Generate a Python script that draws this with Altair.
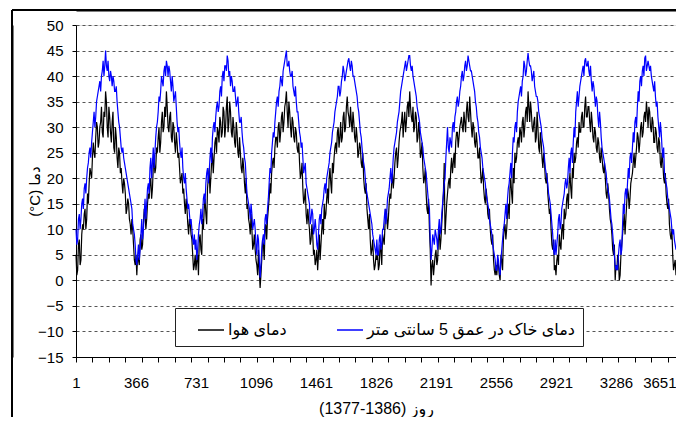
import altair as alt
import pandas as pd

# ---- temperature readings from the reference: values at days 1, 11, 21, ... (one list per year) ----
air_y1 = [5, 2, 8, 4, 11, 13, 10, 17, 19, 21, 24, 25, 28, 30, 27, 31, 29, 33, 37, 30, 34, 29, 31, 26, 30, 24, 26, 21, 19, 20, 17, 14, 15, 11, 12, 7, 3]
air_y2 = [1, 4, 8, 6, 11, 13, 12, 17, 19, 16, 22, 21, 26, 28, 25, 31, 29, 34, 37, 30, 32, 28, 31, 27, 29, 24, 22, 20, 17, 15, 16, 11, 12, 9, 5, 3]
air_y3 = [2, 5, 8, 6, 12, 14, 13, 18, 22, 20, 25, 24, 28, 30, 27, 31, 29, 33, 30, 36, 31, 33, 28, 30, 26, 29, 24, 25, 21, 22, 17, 14, 12, 9, 10, 7, 6]
air_y4 = [3, 6, -1.5, 4, 7, 10, 8, 14, 19, 21, 24, 26, 28, 30, 27, 32, 29, 34, 37, 30, 33, 28, 31, 27, 29, 25, 23, 21, 18, 16, 13, 14, 10, 8, 9, 6]
air_y5 = [4, 2, 9, 7, 12, 15, 13, 18, 20, 19, 23, 24, 27, 29, 26, 31, 28, 33, 30, 36, 32, 34, 29, 31, 27, 28, 25, 26, 22, 20, 17, 14, 10, 8, 6, 4, 3]
air_y6 = [4, 2, 7, 3, 8, 11, 13, 12, 17, 19, 18, 23, 26, 24, 29, 31, 28, 33, 31, 35, 37, 32, 34, 30, 32, 28, 29, 25, 22, 20, 17, 13, 10, -1, 4, 3]
air_y7 = [6, 4, 10, 8, 14, 23, 12, 17, 20, 22, 21, 25, 27, 29, 28, 31, 30, 33, 29, 35, 31, 33, 28, 30, 26, 27, 24, 22, 20, 18, 15, 16, 12, 10, 7, 4, 1]
air_y8 = [1, 3, 0, 4, 8, 11, 10, 15, 18, 17, 22, 25, 24, 28, 30, 27, 32, 30, 34, 37, 31, 33, 29, 32, 28, 30, 25, 27, 22, 23, 19, 17, 13, 10, 6, 2]
air_y9 = [1, 5, 9, 6, 11, 14, 13, 17, 19, 18, 22, 25, 24, 28, 31, 29, 33, 30, 36, 32, 34, 29, 31, 27, 29, 25, 27, 23, 24, 21, 20, 16, 17, 12, 9, 5, 0]
air_y10 = [2, 4, 1, 7, 11, 9, 15, 17, 16, 20, 23, 22, 26, 28, 27, 31, 29, 33, 35, 30, 33, 29, 31, 27, 29, 25, 27, 22, 23, 19, 17, 14, 11, 8, 5, 3, 1]

soil_y1 = [10, 8, 13, 12, 16, 18, 17, 22, 25, 24, 29, 33, 32, 36, 38, 37, 41, 40, 45, 41, 40, 41, 38, 39, 37, 35, 31, 28, 25, 24, 22, 20, 18, 16, 14, 10, 7]
soil_y2 = [3, 7, 6, 12, 10, 16, 15, 19, 22, 20, 26, 25, 30, 33, 35, 40, 38, 42, 43, 40, 41, 37, 38, 36, 34, 29, 27, 24, 22, 19, 18, 14, 13, 12, 8, 9]
soil_y3 = [8, 6, 11, 14, 13, 17, 19, 22, 21, 26, 28, 31, 32, 35, 34, 38, 40, 39, 42, 44, 40, 38, 39, 37, 36, 35, 33, 31, 29, 26, 23, 17, 15, 12, 13, 11, 10]
soil_y4 = [5, 8, 0.5, 6, 9, 12, 11, 16, 22, 25, 29, 31, 35, 34, 38, 39, 41, 43, 45, 42, 41, 40, 38, 36, 35, 33, 29, 26, 24, 22, 19, 17, 15, 12, 13, 10]
soil_y5 = [10, 6, 12, 11, 15, 18, 17, 21, 23, 26, 29, 31, 34, 36, 38, 37, 40, 41, 40, 42, 43.5, 41, 42, 40, 38, 36, 33, 29, 26, 23, 20, 17, 15, 13, 11, 8, 6]
soil_y6 = [8, 5, 9, 7, 10, 14, 13, 17, 20, 19, 24, 27, 29, 32, 35, 38, 40, 42, 41, 43, 44, 41, 40, 38, 36, 33, 31, 28, 26, 23, 21, 17, 14, 4, 9, 7]
soil_y7 = [9, 6, 12, 10, 15, 19, 24, 30, 25, 27, 30, 29, 33, 36, 35, 38, 41, 40, 43, 42, 43, 41, 40, 38, 35, 32, 29, 26, 24, 21, 19, 16, 14, 11, 9, 6, 4]
soil_y8 = [2, 4, 1, 6, 10, 13, 12, 18, 21, 20, 28, 30, 29, 35, 37, 36, 40, 42, 41, 44.5, 42, 41, 40, 38, 36, 35, 32, 30, 27, 24, 21, 19, 16, 13, 9, 5]
soil_y9 = [5, 9, 13, 11, 15, 17, 20, 19, 24, 25, 23, 30, 33, 37, 36, 39, 41, 40, 43.5, 42, 41, 42, 37, 38, 34, 35, 30, 31, 26, 24, 22, 19, 17, 14, 11, 7, 3]
soil_y10 = [3, 5, 8, 6, 15, 17, 16, 22, 24, 23, 29, 31, 30, 37, 39, 38, 42, 43.5, 41, 43, 41, 40, 38, 39, 34, 32, 28, 29, 24, 21, 19, 16, 14, 12, 9, 8, 6]

# ---- readings in between: days 6, 16, 26, ... (one list per year) ----
air_m1 = [1, 7, 3, 9, 10, 14, 12, 15, 22, 20, 27, 24, 31, 26, 30, 34, 28, 32, 35, 28, 32, 27, 33, 25, 28, 22, 25, 22, 17, 19, 13, 16, 12, 9, 10, 4, 5]
air_m2 = [5, 3, 9, 7, 14, 10, 15, 16, 20, 18, 24, 22, 25, 30, 27, 33, 30, 32, 34, 29, 33, 27, 30, 25, 27, 25, 19, 21, 18, 13, 14, 9, 11, 8, 2, 5]
air_m3 = [4, 1, 9, 5, 10, 16, 11, 20, 17, 23, 21, 27, 25, 29, 32, 28, 34, 28, 34, 29, 35, 29, 32, 27, 31, 25, 28, 22, 24, 19, 20, 15, 11, 13, 6, 9, 4]
air_m4 = [1, 2, 1, 8, 4, 11, 12, 16, 17, 23, 22, 28, 26, 31, 29, 33, 31, 35, 33, 35, 30, 32, 28, 30, 26, 27, 20, 23, 15, 18, 11, 12, 7, 11, 5, 3]
air_m5 = [6, 5, 4, 10, 9, 12, 16, 15, 22, 17, 21, 26, 25, 30, 28, 27, 32, 29, 34, 33, 30, 31, 33, 28, 30, 24, 27, 23, 25, 18, 19, 12, 13, 5, 8, 2, 5]
air_m6 = [5, 3, 6, 9, 7, 14, 10, 15, 16, 21, 20, 25, 22, 27, 30, 33, 31, 29, 34, 32, 34, 31, 29, 33, 27, 31, 24, 27, 19, 22, 14, 16, 6, 3, 1, 5]
air_m7 = [3, 8, 6, 11, 17, 9, 15, 19, 18, 24, 23, 22, 29, 26, 30, 32, 29, 31, 33, 32, 36, 30, 31, 27, 29, 24, 26, 19, 22, 16, 18, 13, 14, 8, 9, 2, 3]
air_m8 = [4, 1, 5, 2, 10, 8, 13, 12, 20, 15, 19, 23, 27, 26, 29, 31, 28, 33, 31, 34, 35, 30, 31, 27, 33, 26, 29, 24, 25, 20, 21, 15, 14, 7, 8, 3]
air_m9 = [4, 3, 7, 10, 8, 12, 16, 14, 21, 16, 20, 23, 27, 26, 29, 32, 30, 34, 32, 34, 31, 33, 28, 30, 26, 28, 24, 26, 22, 23, 17, 19, 14, 11, 6, 7, 3]
air_m10 = [5, 0, 5, 9, 13, 12, 18, 14, 19, 21, 25, 24, 29, 25, 30, 28, 32, 31, 33, 34, 30, 32, 27, 30, 26, 28, 23, 25, 20, 21, 15, 16, 9, 10, 2, 4]

soil_m1 = [7, 12, 10, 15, 14, 19, 20, 23, 26, 27, 31, 30, 35, 37, 39, 40, 43, 42, 42, 43, 39, 40, 40, 37, 38, 33, 30, 26, 26, 23, 21, 19, 17, 15, 11, 9, 4]
soil_m2 = [5, 4, 9, 8, 13, 12, 18, 17, 24, 23, 22, 28, 31, 36, 37, 39, 41, 40, 42, 42, 39, 40, 35, 37, 31, 30, 25, 26, 20, 21, 16, 15, 11, 10, 7, 6]
soil_m3 = [4, 9, 12, 11, 16, 15, 21, 19, 24, 23, 30, 29, 34, 33, 37, 36, 41, 42, 41, 43, 41, 40, 37, 38, 34, 36, 31, 32, 27, 24, 20, 16, 14, 15, 10, 12, 7]
soil_m4 = [9, 4, 3, 8, 7, 13, 14, 19, 21, 27, 28, 33, 36, 37, 40, 38, 42, 44, 42, 43, 40, 41, 37, 38, 33, 31, 28, 27, 21, 23, 18, 16, 11, 14, 9, 12]
soil_m5 = [7, 9, 13, 14, 16, 19, 20, 22, 25, 27, 30, 33, 35, 38, 36, 39, 42, 39, 41, 43, 42, 43, 40, 39, 37, 34, 31, 28, 24, 22, 18, 16, 14, 12, 9, 7, 5]
soil_m6 = [5, 8, 6, 10, 12, 11, 16, 18, 22, 21, 26, 28, 31, 33, 37, 39, 41, 43, 42, 44, 42, 42, 39, 37, 34, 32, 29, 27, 24, 22, 19, 15, 8, 6, 8, 10]
soil_m7 = [8, 10, 9, 13, 17, 20, 27, 26, 28, 26, 31, 32, 35, 34, 37, 40, 39, 42, 41, 44, 42, 41, 39, 37, 34, 31, 28, 25, 22, 20, 17, 15, 12, 10, 7, 5, 2]
soil_m8 = [5, 2, 4, 8, 11, 15, 16, 19, 23, 25, 27, 31, 33, 36, 38, 39, 43, 40, 43, 43, 42, 39, 41, 37, 36, 33, 31, 28, 26, 22, 20, 17, 15, 11, 6, 8]
soil_m9 = [7, 12, 10, 14, 16, 19, 18, 22, 21, 26, 27, 28, 35, 34, 38, 40, 42, 43, 42, 43, 40, 39, 39, 36, 36, 32, 33, 28, 25, 23, 21, 18, 16, 12, 9, 5, 2]
soil_m10 = [2, 7, 5, 11, 13, 18, 19, 20, 25, 26, 27, 32, 34, 35, 40, 41, 40, 44, 42, 42, 42, 39, 37, 36, 35, 30, 31, 26, 26, 20, 18, 15, 13, 10, 10, 7]

air_main = air_y1 + air_y2 + air_y3 + air_y4 + air_y5 + air_y6 + air_y7 + air_y8 + air_y9 + air_y10
soil_main = soil_y1 + soil_y2 + soil_y3 + soil_y4 + soil_y5 + soil_y6 + soil_y7 + soil_y8 + soil_y9 + soil_y10
air_mid = air_m1 + air_m2 + air_m3 + air_m4 + air_m5 + air_m6 + air_m7 + air_m8 + air_m9 + air_m10
soil_mid = soil_m1 + soil_m2 + soil_m3 + soil_m4 + soil_m5 + soil_m6 + soil_m7 + soil_m8 + soil_m9 + soil_m10

x_label_days = [1, 366, 731, 1096, 1461, 1826, 2191, 2556, 2921, 3286, 3651]
x_tick_days = [1, 101, 201, 301, 401, 501, 601, 701, 801, 901, 1001, 1101, 1201, 1301, 1401,
               1501, 1601, 1701, 1801, 1901, 2001, 2101, 2201, 2301, 2401, 2501, 2601, 2701,
               2801, 2901, 3001, 3101, 3201, 3301, 3401, 3501, 3601]
y_ticks = [-15, -10, -5, 0, 5, 10, 15, 20, 25, 30, 35, 40, 45, 50]

air_name = "دمای هوا"
soil_name = "دمای خاک در عمق 5 سانتی متر"
x_title = "(1377-1386) روز"
y_title = "(°C) دما"


def series_frame(main_vals, mid_vals, name):
    rows = [(1 + 10 * i, v) for i, v in enumerate(main_vals)]
    rows += [(6 + 10 * i, v) for i, v in enumerate(mid_vals)]
    rows.sort()
    return pd.DataFrame({"day": [r[0] for r in rows], "temp": [r[1] for r in rows], "series": name})


df_air = series_frame(air_main, air_mid, air_name)
df_soil = series_frame(soil_main, soil_mid, soil_name)

FONT = "Liberation Sans, Arial, DejaVu Sans, sans-serif"

x_scale = alt.Scale(domain=[1, 3651], nice=False, zero=False)
y_scale = alt.Scale(domain=[-15, 50], nice=False, zero=False)

y_axis = alt.Axis(orient="left", values=y_ticks, grid=True, gridDash=[3, 3], gridColor="#555555",
                  gridWidth=1, tickSize=4, labelPadding=9, labelFontSize=15, labelFont=FONT,
                  labelColor="black", domainColor="black", tickColor="black",
                  title=y_title, titleFont=FONT, titleFontSize=15, titleFontWeight="normal",
                  titleColor="black", titleAngle=270, titleX=-42, titleY=166,
                  titleAlign="center", titleBaseline="middle")

x_axis_ticks = alt.Axis(orient="bottom", values=x_tick_days, labels=False, ticks=True, tickSize=5,
                        tickColor="black", domain=True, domainColor="black", grid=False, title=None)

x_axis_labels = alt.Axis(orient="bottom", values=x_label_days, ticks=False, tickSize=0, domain=False,
                         grid=False, labels=True, labelPadding=18, labelFlush=False, labelOverlap=False,
                         labelBound=False, labelFontSize=15, labelFont=FONT, labelColor="black",
                         labelAlign={"condition": {"test": "datum.value >= 3651", "value": "right"},
                                     "value": "center"},
                         format="d",
                         title=x_title, titleFont=FONT, titleFontSize=16, titleFontWeight="normal",
                         titleColor="black", titleX=300, titleY=51, titleAlign="center",
                         titleBaseline="middle")

# outer chart border drawn with two extra (label-less) axes placed outside the plot
frame_x_axis = alt.Axis(orient="bottom", offset=-347, values=[-388], domain=True, domainColor="black",
                        domainWidth=2, ticks=True, tickSize=15, tickWidth=2, tickColor="black",
                        labels=False, grid=False, title=None)
frame_y_axis = alt.Axis(orient="right", offset=-664, values=[52.94], domain=True, domainColor="black",
                        domainWidth=2, ticks=True, tickSize=64, tickWidth=2, tickColor="black",
                        labels=False, grid=False, title=None)

color = alt.Color(
    "series:N",
    scale=alt.Scale(domain=[air_name, soil_name], range=["#000000", "#0000ff"]),
    legend=alt.Legend(title=None, orient="none", legendX=99, legendY=283, direction="horizontal",
                      symbolType="stroke", symbolSize=676, symbolStrokeWidth=1.5,
                      labelOffset=3, columnPadding=35, symbolOffset=14, padding=8,
                      strokeColor="#222222", fillColor="white", labelFontSize=16,
                      labelLimit=400, labelFont=FONT, labelColor="black"),
)

frame_row = pd.DataFrame({"k": [1]})
frame_top = alt.Chart(frame_row).mark_rule(color="black", strokeWidth=2).encode(
    x=alt.value(-64), x2=alt.value(600), y=alt.value(-15))
frame_left = alt.Chart(frame_row).mark_rule(color="black", strokeWidth=2).encode(
    x=alt.value(-64), y=alt.value(-15), y2=alt.value(392))
frame_axes = alt.Chart(frame_row).mark_point(opacity=0).encode(
    x=alt.XDatum(1, type="quantitative", scale=x_scale, axis=frame_x_axis),
    y=alt.YDatum(50, type="quantitative", scale=y_scale, axis=frame_y_axis),
)

air_line = alt.Chart(df_air).mark_line(strokeWidth=1.2).encode(
    x=alt.X("day:Q", scale=x_scale, axis=x_axis_ticks),
    y=alt.Y("temp:Q", scale=y_scale, axis=y_axis),
    color=color,
)

soil_line = alt.Chart(df_soil).mark_line(strokeWidth=1.2).encode(
    x=alt.X("day:Q", scale=x_scale, axis=x_axis_labels),
    y=alt.Y("temp:Q", scale=y_scale, axis=None),
    color=color,
)

chart = alt.layer(air_line, soil_line, frame_top, frame_left, frame_axes).resolve_axis(
    x="independent", y="independent"
).properties(
    width=600, height=332,
    autosize=alt.AutoSizeParams(type="none"),
    padding={"left": 68, "top": 17, "right": 0, "bottom": 60},
).configure_view(stroke="#888888", strokeWidth=1).configure(background="white")

chart.save("out.html", embed_options={"renderer": "svg", "actions": False})
